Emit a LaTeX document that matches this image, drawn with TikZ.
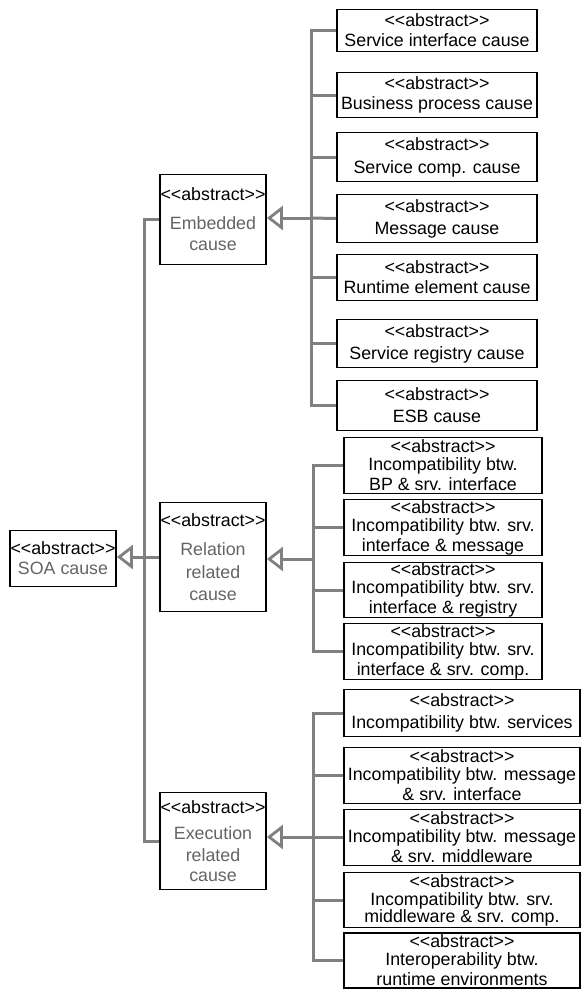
\documentclass[tikz,border=0pt]{standalone}
\usepackage{fontspec}
\setmainfont{Liberation Sans}
\usetikzlibrary{arrows.meta}
\definecolor{linegray}{RGB}{128,128,128}
\definecolor{txtgray}{RGB}{100,100,100}
\newcommand{\stereo}{<{}<abstract>{}>}
\newcommand{\gtxt}[1]{\textcolor{txtgray}{#1}}

\begin{document}
\begin{tikzpicture}[x=1pt, y=-1pt,
    font=\fontsize{17.8}{20}\selectfont,
    box/.style={draw, rectangle, line width=1.8pt, inner sep=0pt, align=center},
    pbox/.style={box, minimum width=106},
    ebox/.style={box, minimum width=200},
    rbox/.style={box, minimum width=198},
    xbox/.style={box, minimum width=236},
    conn/.style={draw=linegray, line width=3pt},
    gen/.style={conn, -{Triangle[open, length=16pt, width=24pt, line width=2.8pt]}}]

    \useasboundingbox (0,0) rectangle (583,990);

    % top level causes
    \node[box, minimum width=106, minimum height=56] (soa) at (63,558.5) {\stereo\\\gtxt{SOA cause}};
    \node[pbox, minimum height=90] (emb) at (213,219.5) {\stereo\\[9pt]\gtxt{Embedded}\\[1pt]\gtxt{cause}};
    \node[pbox, minimum height=109] (rel) at (213,557) {\stereo\\[9pt]\gtxt{Relation}\\[3pt]\gtxt{related}\\[2pt]\gtxt{cause}};
    \node[pbox, minimum height=97] (exe) at (213,841) {\stereo\\[6pt]\gtxt{Execution}\\[2pt]\gtxt{related}\\\gtxt{cause}};

    % embedded causes
    \node[ebox, minimum height=42] (e1) at (437,30.5) {\stereo\\Service interface cause};
    \node[ebox, minimum height=45] (e2) at (437,95) {\stereo\\Business process cause};
    \node[ebox, minimum height=49] (e3) at (437,157) {\stereo\\[3pt]Service comp. cause};
    \node[ebox, minimum height=48] (e4) at (437,218.5) {\stereo\\[2pt]Message cause};
    \node[ebox, minimum height=46] (e5) at (437,277.5) {\stereo\\Runtime element cause};
    \node[ebox, minimum height=48] (e6) at (437,343.5) {\stereo\\[2pt]Service registry cause};
    \node[ebox, minimum height=50] (e7) at (437,405.5) {\stereo\\[2pt]ESB cause};

    % relation related causes
    \node[rbox, minimum height=56] (r1) at (443,465.5) {\stereo\\[-2pt]Incompatibility btw.\\BP \& srv. interface};
    \node[rbox, minimum height=56] (r2) at (443,527.5) {\stereo\\[-2pt]Incompatibility btw. srv.\\interface \& message};
    \node[rbox, minimum height=55] (r3) at (443,590) {\stereo\\[-2pt]Incompatibility btw. srv.\\interface \& registry};
    \node[rbox, minimum height=56] (r4) at (443,651.5) {\stereo\\[-2pt]Incompatibility btw. srv.\\interface \& srv. comp.};

    % execution related causes
    \node[xbox, minimum height=47] (x1) at (462,713) {\stereo\\[2pt]Incompatibility btw. services};
    \node[xbox, minimum height=56] (x2) at (462,775.5) {\stereo\\[-2pt]Incompatibility btw. message\\\& srv. interface};
    \node[xbox, minimum height=56] (x3) at (462,837.5) {\stereo\\[-2pt]Incompatibility btw. message\\\& srv. middleware};
    \node[xbox, minimum height=55] (x4) at (462,900) {\stereo\\[-2pt]Incompatibility btw. srv.\\[-3pt]middleware \& srv. comp.};
    \node[xbox, minimum height=55] (x5) at (462,960.5) {\stereo\\[-2pt]Interoperability btw.\\runtime environments};

    \coordinate (mbus) at (144,558);
    \coordinate (ebus) at (311,218);
    \coordinate (rbus) at (313,559);
    \coordinate (xbus) at (313,837);

    \draw[conn] (e1.west) -| (ebus);
    \draw[conn] (e2.west) -| (ebus);
    \draw[conn] (e3.west) -| (ebus);
    \draw[conn] (e4.west) -- (ebus);
    \draw[conn] (e5.west) -| (ebus);
    \draw[conn] (e6.west) -| (ebus);
    \draw[conn] (e7.west) -| (ebus);
    \draw[gen] (ebus) -- (ebus -| emb.east);

    \draw[conn] (r1.west) -| (rbus);
    \draw[conn] (r2.west) -| (rbus);
    \draw[conn] (r3.west) -| (rbus);
    \draw[conn] (r4.west) -| (rbus);
    \draw[gen] (rbus) -- (rbus -| rel.east);

    \draw[conn] (x1.west) -| (xbus);
    \draw[conn] (x2.west) -| (xbus);
    \draw[conn] (x3.west) -| (xbus);
    \draw[conn] (x4.west) -| (xbus);
    \draw[conn] (x5.west) -| (xbus);
    \draw[gen] (xbus) -- (xbus -| exe.east);

    \draw[conn] (emb.west) -| (mbus);
    \draw[conn] (exe.west) -| (mbus);
    \draw[gen] (rel.west) -- (rel.west -| soa.east);
\end{tikzpicture}
\end{document}
